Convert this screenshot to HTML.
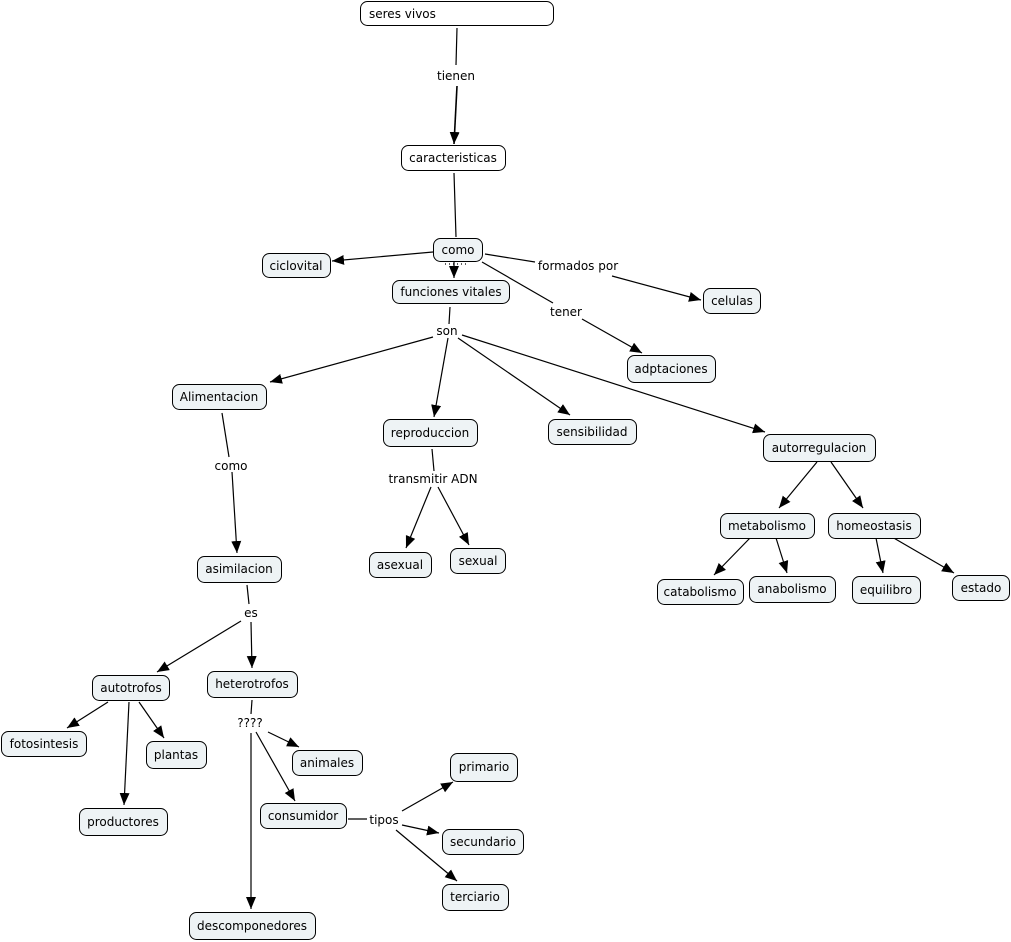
<!DOCTYPE html>
<html><head><meta charset="utf-8"><style>
html,body{margin:0;padding:0;background:#fff;}
svg{display:block;}
text{font-family:"DejaVu Sans","Liberation Sans",sans-serif;font-size:12px;fill:#000;}
.c{fill:#eef3f5;stroke:#000;stroke-width:1;}
.w{fill:#fff;stroke:#000;stroke-width:1;}
.l{stroke:#000;stroke-width:1.2;fill:none;}
</style></head><body>
<svg width="1011" height="942" viewBox="0 0 1011 942" xmlns="http://www.w3.org/2000/svg">
<defs>
<marker id="a" markerUnits="userSpaceOnUse" markerWidth="13" markerHeight="11" refX="12" refY="5" orient="auto">
<path d="M0,0 L12,5 L0,10 z" fill="#000"/>
</marker>
</defs>
<rect width="1011" height="942" fill="#fff"/>

<!-- plain lines -->
<g class="l">
<line x1="457" y1="28" x2="456" y2="65"/>
<line x1="454" y1="173" x2="456" y2="237"/>
<line x1="485" y1="254" x2="535" y2="262"/>
<line x1="482" y1="262" x2="553" y2="303"/>
<line x1="450" y1="307" x2="449" y2="324"/>
<line x1="222" y1="413" x2="229" y2="457"/>
<line x1="432" y1="449" x2="434" y2="471"/>
<line x1="247" y1="585" x2="249" y2="604"/>
<line x1="252" y1="700" x2="251" y2="714"/>
<line x1="348" y1="819" x2="367" y2="819"/>
<line x1="445" y1="264" x2="467" y2="264" stroke-dasharray="1,3"/>
</g>

<!-- arrows -->
<g class="l" marker-end="url(#a)">
<line x1="457" y1="86" x2="454" y2="144" stroke-width="1.6"/>
<line x1="433" y1="252" x2="332" y2="261"/>
<line x1="454" y1="262" x2="454" y2="278"/>
<line x1="612" y1="276" x2="701" y2="300"/>
<line x1="582" y1="319" x2="642" y2="353"/>
<line x1="433" y1="337" x2="270" y2="382"/>
<line x1="448" y1="338" x2="434" y2="417"/>
<line x1="458" y1="338" x2="570" y2="415"/>
<line x1="462" y1="335" x2="765" y2="432"/>
<line x1="232" y1="472" x2="237" y2="553"/>
<line x1="431" y1="487" x2="406" y2="548"/>
<line x1="438" y1="487" x2="469" y2="545"/>
<line x1="817" y1="462" x2="779" y2="508"/>
<line x1="831" y1="462" x2="863" y2="508"/>
<line x1="750" y1="538" x2="714" y2="575"/>
<line x1="776" y1="538" x2="787" y2="573"/>
<line x1="876" y1="538" x2="883" y2="573"/>
<line x1="892" y1="537" x2="954" y2="573"/>
<line x1="241" y1="621" x2="157" y2="672"/>
<line x1="251" y1="622" x2="252" y2="668"/>
<line x1="108" y1="702" x2="67" y2="728"/>
<line x1="129" y1="702" x2="124" y2="805"/>
<line x1="139" y1="702" x2="164" y2="738"/>
<line x1="268" y1="732" x2="299" y2="747"/>
<line x1="256" y1="732" x2="295" y2="801"/>
<line x1="251" y1="733" x2="251" y2="909"/>
<line x1="402" y1="811" x2="453" y2="782"/>
<line x1="402" y1="825" x2="439" y2="833"/>
<line x1="396" y1="830" x2="457" y2="881"/>
</g>

<!-- concept boxes -->
<rect class="w" x="360.5" y="1.5" width="193" height="24" rx="7"/>
<text x="369" y="18">seres vivos</text>

<rect class="w" x="401.5" y="145.5" width="104" height="25" rx="7"/>
<text x="453" y="162" text-anchor="middle">caracteristicas</text>

<g text-anchor="middle">
<rect class="c" x="433.5" y="238.5" width="49" height="23" rx="7"/>
<text x="458" y="254">como</text>

<rect class="c" x="262.5" y="253.5" width="68" height="24" rx="7"/>
<text x="296" y="270">ciclovital</text>

<rect class="c" x="392.5" y="280.5" width="117" height="23" rx="7"/>
<text x="451" y="296">funciones vitales</text>

<rect class="c" x="703.5" y="288.5" width="57" height="25" rx="7"/>
<text x="732" y="305">celulas</text>

<rect class="c" x="627.5" y="355.5" width="88" height="27" rx="7"/>
<text x="671" y="373">adptaciones</text>

<rect class="c" x="172.5" y="384.5" width="94" height="25" rx="7"/>
<text x="219" y="401">Alimentacion</text>

<rect class="c" x="383.5" y="419.5" width="94" height="27" rx="7"/>
<text x="430" y="437">reproduccion</text>

<rect class="c" x="548.5" y="419.5" width="88" height="25" rx="7"/>
<text x="592" y="436">sensibilidad</text>

<rect class="c" x="763.5" y="434.5" width="112" height="27" rx="7"/>
<text x="819" y="452">autorregulacion</text>

<rect class="c" x="197.5" y="556.5" width="84" height="26" rx="7"/>
<text x="239" y="573">asimilacion</text>

<rect class="c" x="369.5" y="552.5" width="62" height="25" rx="7"/>
<text x="400" y="569">asexual</text>

<rect class="c" x="450.5" y="548.5" width="55" height="25" rx="7"/>
<text x="478" y="565">sexual</text>

<rect class="c" x="720.5" y="513.5" width="94" height="25" rx="7"/>
<text x="767" y="530">metabolismo</text>

<rect class="c" x="828.5" y="513.5" width="92" height="25" rx="7"/>
<text x="874" y="530">homeostasis</text>

<rect class="c" x="657.5" y="579.5" width="86" height="25" rx="7"/>
<text x="700" y="596">catabolismo</text>

<rect class="c" x="749.5" y="576.5" width="86" height="26" rx="7"/>
<text x="792" y="593">anabolismo</text>

<rect class="c" x="852.5" y="576.5" width="68" height="27" rx="7"/>
<text x="886" y="594">equilibro</text>

<rect class="c" x="952.5" y="575.5" width="57" height="25" rx="7"/>
<text x="981" y="592">estado</text>

<rect class="c" x="92.5" y="675.5" width="77" height="25" rx="7"/>
<text x="131" y="692">autotrofos</text>

<rect class="c" x="207.5" y="671.5" width="90" height="26" rx="7"/>
<text x="252" y="688">heterotrofos</text>

<rect class="c" x="1.5" y="731.5" width="85" height="25" rx="7"/>
<text x="44" y="748">fotosintesis</text>

<rect class="c" x="146.5" y="741.5" width="60" height="27" rx="7"/>
<text x="176" y="759">plantas</text>

<rect class="c" x="79.5" y="808.5" width="88" height="27" rx="7"/>
<text x="123" y="826">productores</text>

<rect class="c" x="292.5" y="750.5" width="70" height="25" rx="7"/>
<text x="327" y="767">animales</text>

<rect class="c" x="260.5" y="803.5" width="86" height="25" rx="7"/>
<text x="303" y="820">consumidor</text>

<rect class="c" x="189.5" y="912.5" width="126" height="27" rx="7"/>
<text x="252" y="930">descomponedores</text>

<rect class="c" x="450.5" y="753.5" width="67" height="28" rx="7"/>
<text x="484" y="771">primario</text>

<rect class="c" x="442.5" y="829.5" width="81" height="25" rx="7"/>
<text x="483" y="846">secundario</text>

<rect class="c" x="442.5" y="884.5" width="66" height="26" rx="7"/>
<text x="475" y="901">terciario</text>

<!-- link labels -->
<text x="456" y="80">tienen</text>
<text x="578" y="270">formados por</text>
<text x="566" y="316">tener</text>
<text x="447" y="335">son</text>
<text x="231" y="470">como</text>
<text x="433" y="483">transmitir ADN</text>
<text x="251" y="617">es</text>
<text x="250" y="727">????</text>
<text x="384" y="824">tipos</text>
</g>
</svg>
</body></html>
